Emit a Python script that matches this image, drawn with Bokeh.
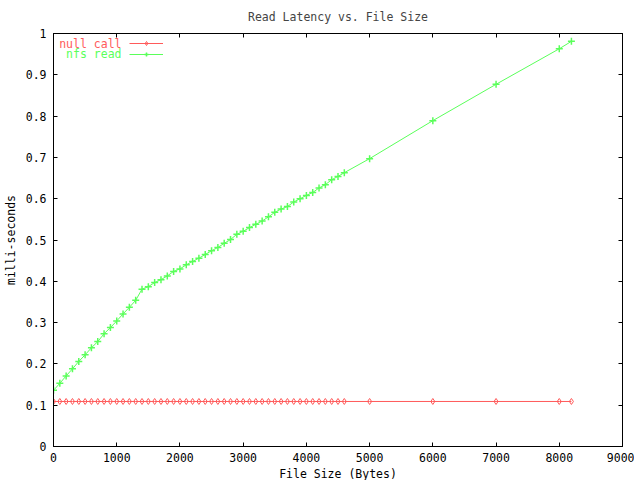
from bokeh.plotting import figure
from bokeh.models import LinearAxis, FixedTicker, Legend, LegendItem, Label, Range1d, ColumnDataSource
from bokeh.embed import file_html
from bokeh.resources import INLINE

# ---- data ----
file_size = [0, 100, 200, 300, 400, 500, 600, 700, 800, 900,
             1000, 1100, 1200, 1300, 1400, 1500, 1600, 1700, 1800, 1900,
             2000, 2100, 2200, 2300, 2400, 2500, 2600, 2700, 2800, 2900,
             3000, 3100, 3200, 3300, 3400, 3500, 3600, 3700, 3800, 3900,
             4000, 4100, 4200, 4300, 4400, 4500, 4600,
             5000, 6000, 7000, 8000, 8192]
null_call = [
    0.109, 0.109, 0.109, 0.109, 0.109, 0.109, 0.109, 0.109, 0.109, 0.109,
    0.109, 0.109, 0.109, 0.109, 0.109, 0.109, 0.109, 0.109, 0.109, 0.109,
    0.109, 0.109, 0.109, 0.109, 0.109, 0.109, 0.109, 0.109, 0.109, 0.109,
    0.109, 0.109, 0.109, 0.109, 0.109, 0.109, 0.109, 0.109, 0.109, 0.109,
    0.109, 0.109, 0.109, 0.109, 0.109, 0.109, 0.109,
    0.109, 0.109, 0.109, 0.109, 0.109]
nfs_read = [0.136, 0.153, 0.171, 0.188, 0.206, 0.222, 0.239, 0.254, 0.273, 0.288,
            0.304, 0.321, 0.337, 0.354, 0.381, 0.387, 0.397, 0.404, 0.413, 0.424,
            0.430, 0.440, 0.448, 0.456, 0.465, 0.474, 0.482, 0.492, 0.501, 0.514,
            0.521, 0.530, 0.538, 0.546, 0.556, 0.567, 0.575, 0.581, 0.592, 0.600,
            0.608, 0.615, 0.626, 0.634, 0.646, 0.654, 0.663,
            0.697, 0.789, 0.877, 0.963, 0.981]
x_ticks = [0, 1000, 2000, 3000, 4000, 5000, 6000, 7000, 8000, 9000]
x_tick_labels = ["0", "1000", "2000", "3000", "4000", "5000", "6000", "7000", "8000", "9000"]
y_ticks = [0, 0.1, 0.2, 0.3, 0.4, 0.5, 0.6, 0.7, 0.8, 0.9, 1.0]
y_tick_labels = ["0", "0.1", "0.2", "0.3", "0.4", "0.5", "0.6", "0.7", "0.8", "0.9", "1"]
series_names = ["null call", "nfs read"]

RED = "#ff5a5a"
GREEN = "#5aff5a"
FONT = "DejaVu Sans Mono"
FS = "11.5px"

src = ColumnDataSource(dict(x=file_size, nc=null_call, nr=nfs_read))

p = figure(frame_width=569, frame_height=413,
           x_range=Range1d(0, 9000), y_range=Range1d(0, 1),
           output_backend="svg", toolbar_location=None,
           min_border_left=44, min_border_right=12,
           min_border_top=33, min_border_bottom=32,
           title="Read Latency vs. File Size", x_axis_label="File Size (Bytes)",
           y_axis_label="milli-seconds")
p.background_fill_color = "white"
p.border_fill_color = "white"
p.outline_line_color = "black"
p.xgrid.visible = False
p.ygrid.visible = False

p.title.text_font = FONT
p.title.text_font_size = FS
p.title.text_font_style = "normal"
p.title.align = "center"
p.title.vertical_align = "top"
p.title.standoff = 16

def style_axis(ax, labels=True):
    ax.axis_line_color = "black"
    ax.major_tick_in = 4
    ax.major_tick_out = 0
    ax.minor_tick_line_color = None
    ax.major_tick_line_color = "black"
    ax.major_label_text_font = FONT
    ax.major_label_text_font_size = FS
    ax.major_label_text_color = "black"
    ax.axis_label_text_font = FONT
    ax.axis_label_text_font_size = FS
    ax.axis_label_text_font_style = "normal"
    ax.axis_label_text_color = "black"
    if not labels:
        ax.major_label_standoff = 0
        ax.major_label_text_alpha = 0

xa = p.xaxis[0]
ya = p.yaxis[0]
xa.ticker = FixedTicker(ticks=x_ticks)
ya.ticker = FixedTicker(ticks=y_ticks)
xa.major_label_overrides = {t: l for t, l in zip(x_ticks, x_tick_labels)}
ya.major_label_overrides = {t: l for t, l in zip(y_ticks, y_tick_labels)}
style_axis(xa)
style_axis(ya)
xa.major_label_standoff = 6
xa.axis_label_standoff = 2
ya.major_label_standoff = 7
ya.axis_label_standoff = 5

ra = LinearAxis(ticker=FixedTicker(ticks=y_ticks),
                major_label_overrides={t: "" for t in y_ticks})
style_axis(ra, labels=False)
p.add_layout(ra, "right")
ta = LinearAxis(ticker=FixedTicker(ticks=x_ticks),
                major_label_overrides={t: "" for t in x_ticks})
style_axis(ta, labels=False)
p.add_layout(ta, "above")

r1l = p.line("x", "nc", source=src, line_color=RED, line_width=1)
r1m = p.scatter("x", "nc", source=src, marker="diamond", size=6, line_color=RED,
                fill_color=None, line_width=1)
r2l = p.line("x", "nr", source=src, line_color=GREEN, line_width=1)
r2m = p.scatter("x", "nr", source=src, marker="cross", size=7, line_color=GREEN,
                line_width=1.5)

for rends, yy in zip([[r1l, r1m], [r2l, r2m]], [398, 387.5]):
    lg = Legend(items=[LegendItem(label=" ", renderers=rends)],
                location=(76, yy), glyph_width=34, glyph_height=10,
                label_width=0, label_height=10, label_standoff=0,
                label_text_font_size="10px", padding=0, spacing=0, margin=0,
                border_line_color=None, background_fill_alpha=0)
    p.add_layout(lg)

for name, col, yy in zip(series_names, [RED, GREEN], [403, 392.5]):
    p.add_layout(Label(x=68, y=yy, x_units="screen", y_units="screen", text=name,
                       text_align="right", text_baseline="middle", text_color=col,
                       text_font=FONT, text_font_size=FS))

open("out.html", "w").write(file_html(p, INLINE))
